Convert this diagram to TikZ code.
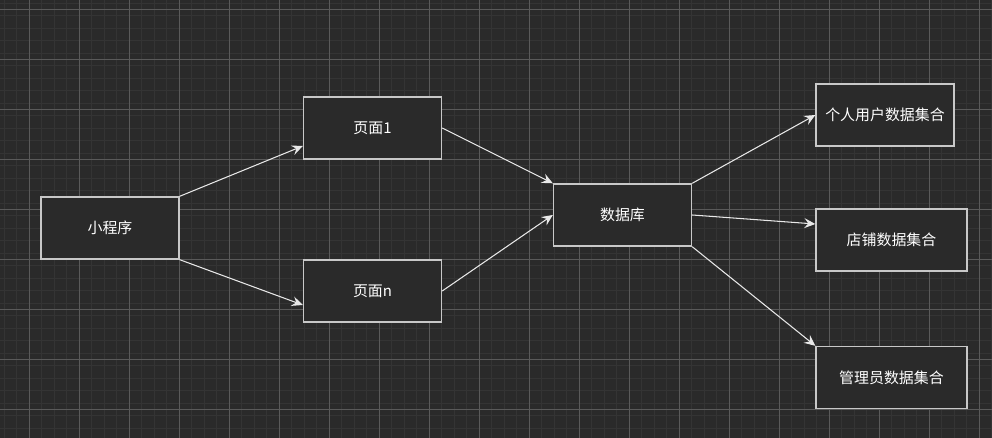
\documentclass[tikz,border=0pt]{standalone}
\usepackage{fontspec}
\newfontfamily\cjk{Noto Sans CJK SC}
\usetikzlibrary{arrows.meta}
\definecolor{bgcol}{HTML}{2A2A2A}
\definecolor{minorcol}{HTML}{343434}
\definecolor{majorcol}{HTML}{5A5A5A}
\definecolor{edgecol}{HTML}{C8C8C8}
\definecolor{linkcol}{HTML}{E8E8E8}
\tikzset{
  box/.style={draw=edgecol, fill=bgcol, line width=0.8pt, minimum width=2.76cm,
    minimum height=1.24cm, text=white, font=\cjk\fontsize{8.5}{10}\selectfont},
  widebox/.style={box, minimum width=3.02cm},
  link/.style={draw=linkcol, line width=0.6pt, -{Stealth[length=2.2mm,width=2mm,inset=0.8mm]}}
}
\begin{document}
\begin{tikzpicture}
\fill[bgcol] (0,0) rectangle (19.84,-8.76);
\useasboundingbox (0,0) rectangle (19.84,-8.76);
\begin{scope}
\clip (0,0) rectangle (19.84,-8.76);
\draw[minorcol, line width=0.5pt, shift={(0.086,0.186)}, step=0.25] (-1,-10) grid (21,1);
\draw[majorcol, line width=0.5pt, shift={(0.586,-0.186)}, step=1] (-1,-10) grid (21,1);
\end{scope}

\node[box] (xcx) at (2.2,-4.56) {小程序};
\node[box] (ym1) at (7.45,-2.56) {页面1};
\node[box] (ymn) at (7.45,-5.82) {页面n};
\node[box] (sjk) at (12.45,-4.3) {数据库};
\node[box] (grjh) at (17.7,-2.3) {个人用户数据集合};
\node[widebox] (dpjh) at (17.83,-4.8) {店铺数据集合};
\node[widebox] (gljh) at (17.83,-7.55) {管理员数据集合};

\draw[link] (xcx.north east) -- ([yshift=-0.36cm]ym1.west);
\draw[link] (xcx.south east) -- ([yshift=-0.28cm]ymn.west);
\draw[link] (ym1.east) -- (sjk.north west);
\draw[link] (ymn.east) -- (sjk.west);
\draw[link] (sjk.north east) -- (grjh.west);
\draw[link] (sjk.east) -- ([yshift=0.32cm]dpjh.west);
\draw[link] (sjk.south east) -- (gljh.north west);
\end{tikzpicture}
\end{document}
